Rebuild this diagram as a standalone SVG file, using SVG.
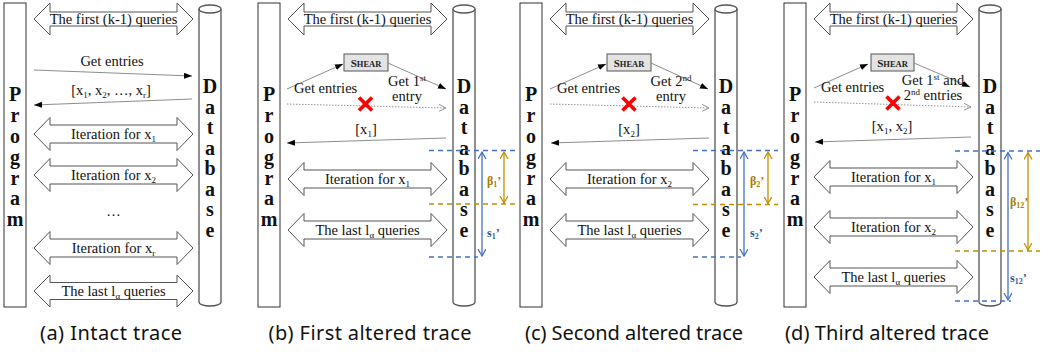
<svg xmlns="http://www.w3.org/2000/svg" width="1057" height="356" viewBox="0 0 1057 356">
<style>
.prog{fill:#fff;stroke:#333;stroke-width:1}
.db{fill:#fff;stroke:#555;stroke-width:1.3}
.big{font-family:"Liberation Serif",serif;font-weight:bold;font-size:20px;text-anchor:middle;fill:#111}
.blk{fill:#fff;stroke:#555;stroke-width:1}
.lbl{font-family:"Liberation Serif",serif;font-size:14.5px;fill:#111}
.mid{text-anchor:middle}
.sb{font-size:9px}
.sp{font-size:9px}
.msg{stroke:#808080;stroke-width:0.9;fill:none;marker-end:url(#ah)}
.dot{stroke:#888;stroke-width:0.9;stroke-dasharray:1.5 1.5;fill:none;marker-end:url(#oh)}
.bd{stroke:#4472c4;stroke-width:1.3;stroke-dasharray:5 4;fill:none}
.gd{stroke:#bf9000;stroke-width:1.3;stroke-dasharray:5 4;fill:none}
.bv{stroke:#4472c4;stroke-width:1.3;fill:none;marker-start:url(#bh);marker-end:url(#bh)}
.gv{stroke:#bf9000;stroke-width:1.3;fill:none;marker-start:url(#gh);marker-end:url(#gh)}
.bl{font-family:"Liberation Serif",serif;font-weight:bold;font-size:12px;fill:#2f5597}
.gl{font-family:"Liberation Serif",serif;font-weight:bold;font-size:12px;fill:#a67c00}
.s2{font-size:8px}
.shear{fill:#e3e3e3;stroke:#555;stroke-width:1}
.sht{font-family:"Liberation Serif",serif;font-weight:bold;font-size:11px;text-anchor:middle;fill:#222}
.x{stroke:#ff0000;stroke-width:3.6;fill:none}
.cap{font-family:"Noto Sans","DejaVu Sans",sans-serif;font-size:20px;text-anchor:middle;fill:#111}
</style>
<defs>
<marker id="ah" markerUnits="userSpaceOnUse" markerWidth="9" markerHeight="7" refX="8" refY="3" orient="auto"><path d="M0,0 L8,3 L0,6 Z" fill="#000"/></marker>
<marker id="oh" markerUnits="userSpaceOnUse" markerWidth="9" markerHeight="8" refX="7" refY="3.5" orient="auto"><path d="M0,0 L7,3.5 L0,7" fill="none" stroke="#888" stroke-width="0.9"/></marker>
<marker id="bh" markerUnits="userSpaceOnUse" markerWidth="9" markerHeight="9" refX="7" refY="4" orient="auto-start-reverse"><path d="M0,0 L7,4 L0,8" fill="none" stroke="#4472c4" stroke-width="1.3"/></marker>
<marker id="gh" markerUnits="userSpaceOnUse" markerWidth="9" markerHeight="9" refX="7" refY="4" orient="auto-start-reverse"><path d="M0,0 L7,4 L0,8" fill="none" stroke="#bf9000" stroke-width="1.3"/></marker>
<g id="progShape"><rect class="prog" x="4" y="3" width="22" height="304"/><text class="big" x="15" y="101">P</text><text class="big" x="15" y="122">r</text><text class="big" x="15" y="143">o</text><text class="big" x="15" y="164">g</text><text class="big" x="15" y="185">r</text><text class="big" x="15" y="205">a</text><text class="big" x="15" y="226">m</text></g>
<g id="dbShape"><path class="db" d="M199,9 L199,302 A11,4 0 0 0 221,302 L221,9"/><ellipse class="db" cx="210" cy="9" rx="11" ry="4"/><text class="big" x="210" y="93">D</text><text class="big" x="210" y="114">a</text><text class="big" x="210" y="134">t</text><text class="big" x="210" y="155">a</text><text class="big" x="210" y="175">b</text><text class="big" x="210" y="196">a</text><text class="big" x="210" y="216">s</text><text class="big" x="210" y="237">e</text></g>
</defs>

<!-- Panel (a) -->
<g id="panel-a">
<g id="a-program"><use href="#progShape"/></g>
<g id="a-database"><use href="#dbShape"/></g>
<g id="a-first"><path class="blk" d="M34,19 L50,3 L50,12 L177,12 L177,3 L193,19 L177,35 L177,26 L50,26 L50,35 Z"/><text class="lbl mid" x="113.5" y="24">The first (k-1) queries</text></g>
<g id="a-iter1"><path class="blk" d="M34,134 L50,117.5 L50,125 L177,125 L177,117.5 L193,134 L177,150.5 L177,143 L50,143 L50,150.5 Z"/><text class="lbl mid" x="113.5" y="139">Iteration for x<tspan class="sb" dy="3">1</tspan></text></g>
<g id="a-iter2"><path class="blk" d="M34,175 L50,158.5 L50,166 L177,166 L177,158.5 L193,175 L177,191.5 L177,184 L50,184 L50,191.5 Z"/><text class="lbl mid" x="113.5" y="180">Iteration for x<tspan class="sb" dy="3">2</tspan></text></g>
<text class="lbl mid" x="113.5" y="216">…</text>
<g id="a-iterr"><path class="blk" d="M34,248 L50,231.5 L50,239 L177,239 L177,231.5 L193,248 L177,264.5 L177,257 L50,257 L50,264.5 Z"/><text class="lbl mid" x="113.5" y="253">Iteration for x<tspan class="sb" dy="3">r</tspan></text></g>
<g id="a-last"><path class="blk" d="M34,291 L50,275 L50,282.5 L177,282.5 L177,275 L193,291 L177,307 L177,299.5 L50,299.5 L50,307 Z"/><text class="lbl mid" x="113.5" y="296">The last l<tspan class="sb" dy="3">α</tspan><tspan dy="-3"> queries</tspan></text></g>
<g id="a-connectors">
<line class="msg" x1="34" y1="70" x2="192" y2="76"/>
<line class="msg" x1="192" y1="99" x2="34" y2="105"/>
</g>
<text class="lbl mid" x="112" y="66">Get entries</text>
<text class="lbl mid" x="111" y="95">[x<tspan class="sb" dy="3">1</tspan><tspan dy="-3">, x</tspan><tspan class="sb" dy="3">2</tspan><tspan dy="-3">, …, x</tspan><tspan class="sb" dy="3">r</tspan><tspan dy="-3">]</tspan></text>
</g>

<!-- Panel (b) -->
<g id="panel-b" transform="translate(254,0)">
<g id="b-program"><use href="#progShape"/></g>
<g id="b-database"><use href="#dbShape"/></g>
<g id="b-first"><path class="blk" d="M34,19 L50,3 L50,12 L177,12 L177,3 L193,19 L177,35 L177,26 L50,26 L50,35 Z"/><text class="lbl mid" x="113.5" y="24">The first (k-1) queries</text></g>
<g id="b-shear"><rect class="shear" x="90" y="54" width="44" height="17"/><text class="sht" x="112" y="66.5">S<tspan font-size="8.5">HEAR</tspan></text></g>
<g id="b-iter1"><path class="blk" d="M34,179 L50,162.5 L50,170 L177,170 L177,162.5 L193,179 L177,195.5 L177,188 L50,188 L50,195.5 Z"/><text class="lbl mid" x="113.5" y="184">Iteration for x<tspan class="sb" dy="3">1</tspan></text></g>
<g id="b-last"><path class="blk" d="M34,230 L50,213.5 L50,221 L177,221 L177,213.5 L193,230 L177,246.5 L177,239 L50,239 L50,246.5 Z"/><text class="lbl mid" x="113.5" y="235">The last l<tspan class="sb" dy="3">α</tspan><tspan dy="-3"> queries</tspan></text></g>
<g id="b-connectors">
<line class="msg" x1="33" y1="89" x2="89" y2="64"/>
<line class="msg" x1="134" y1="63" x2="192" y2="89"/>
<line class="dot" x1="33" y1="104" x2="192" y2="108"/>
<line class="msg" x1="192" y1="138" x2="33" y2="143"/>
<line class="bd" x1="175" y1="150.5" x2="261" y2="150.5"/>
<line class="gd" x1="175" y1="204" x2="261" y2="204"/>
<line class="bd" x1="175" y1="257" x2="224" y2="257"/>
<line class="bv" x1="228" y1="152" x2="228" y2="256"/>
<line class="gv" x1="250" y1="152" x2="250" y2="203"/>
</g>
<g id="b-cross"><path class="x" d="M105,97.5 L118,110.5 M118,97.5 L105,110.5"/></g>
<text class="lbl" x="40" y="93">Get entries</text>
<text class="lbl mid" x="153" y="86">Get 1<tspan class="sp" dy="-5">st</tspan></text>
<text class="lbl mid" x="153" y="101">entry</text>
<text class="lbl mid" x="112" y="134">[x<tspan class="sb" dy="3">1</tspan><tspan dy="-3">]</tspan></text>
<text class="gl" x="233" y="185">β<tspan class="s2" dy="2">1</tspan><tspan dy="-2">’</tspan></text>
<text class="bl" x="233" y="237">s<tspan class="s2" dy="2">1</tspan><tspan dy="-2">’</tspan></text>
</g>

<!-- Panel (c) -->
<g id="panel-c" transform="translate(516,0)">
<g id="c-program"><use href="#progShape"/></g>
<g id="c-database"><use href="#dbShape"/></g>
<g id="c-first"><path class="blk" d="M34,19 L50,3 L50,12 L177,12 L177,3 L193,19 L177,35 L177,26 L50,26 L50,35 Z"/><text class="lbl mid" x="113.5" y="24">The first (k-1) queries</text></g>
<g id="c-shear"><rect class="shear" x="91" y="54" width="44" height="17"/><text class="sht" x="113" y="66.5">S<tspan font-size="8.5">HEAR</tspan></text></g>
<g id="c-iter2"><path class="blk" d="M34,179 L50,162.5 L50,170 L177,170 L177,162.5 L193,179 L177,195.5 L177,188 L50,188 L50,195.5 Z"/><text class="lbl mid" x="113.5" y="184">Iteration for x<tspan class="sb" dy="3">2</tspan></text></g>
<g id="c-last"><path class="blk" d="M34,230 L50,213.5 L50,221 L177,221 L177,213.5 L193,230 L177,246.5 L177,239 L50,239 L50,246.5 Z"/><text class="lbl mid" x="113.5" y="235">The last l<tspan class="sb" dy="3">α</tspan><tspan dy="-3"> queries</tspan></text></g>
<g id="c-connectors">
<line class="msg" x1="34" y1="89" x2="90" y2="64"/>
<line class="msg" x1="135" y1="63" x2="192" y2="89"/>
<line class="dot" x1="34" y1="104" x2="193" y2="108"/>
<line class="msg" x1="193" y1="138" x2="35" y2="143"/>
<line class="bd" x1="177" y1="150.5" x2="262" y2="150.5"/>
<line class="gd" x1="177" y1="204.5" x2="262" y2="204.5"/>
<line class="bd" x1="177" y1="257" x2="225" y2="257"/>
<line class="bv" x1="228" y1="152" x2="228" y2="256"/>
<line class="gv" x1="252" y1="152" x2="252" y2="203.5"/>
</g>
<g id="c-cross"><path class="x" d="M106.5,97.5 L119.5,110.5 M119.5,97.5 L106.5,110.5"/></g>
<text class="lbl" x="41" y="93">Get entries</text>
<text class="lbl mid" x="155" y="86">Get 2<tspan class="sp" dy="-5">nd</tspan></text>
<text class="lbl mid" x="155" y="101">entry</text>
<text class="lbl mid" x="113" y="134">[x<tspan class="sb" dy="3">2</tspan><tspan dy="-3">]</tspan></text>
<text class="gl" x="234" y="185">β<tspan class="s2" dy="2">2</tspan><tspan dy="-2">’</tspan></text>
<text class="bl" x="234" y="237">s<tspan class="s2" dy="2">2</tspan><tspan dy="-2">’</tspan></text>
</g>

<!-- Panel (d) -->
<g id="panel-d" transform="translate(780,0)">
<g id="d-program"><use href="#progShape"/></g>
<g id="d-database"><use href="#dbShape"/></g>
<g id="d-first"><path class="blk" d="M34,19 L50,3 L50,12 L177,12 L177,3 L193,19 L177,35 L177,26 L50,26 L50,35 Z"/><text class="lbl mid" x="113.5" y="24">The first (k-1) queries</text></g>
<g id="d-shear"><rect class="shear" x="91" y="54" width="43" height="17"/><text class="sht" x="112.5" y="66.5">S<tspan font-size="8.5">HEAR</tspan></text></g>
<g id="d-iter1"><path class="blk" d="M34,177 L50,160.5 L50,168 L177,168 L177,160.5 L193,177 L177,193.5 L177,186 L50,186 L50,193.5 Z"/><text class="lbl mid" x="113.5" y="182">Iteration for x<tspan class="sb" dy="3">1</tspan></text></g>
<g id="d-iter2"><path class="blk" d="M34,227 L50,210.5 L50,218 L177,218 L177,210.5 L193,227 L177,243.5 L177,236 L50,236 L50,243.5 Z"/><text class="lbl mid" x="113.5" y="232">Iteration for x<tspan class="sb" dy="3">2</tspan></text></g>
<g id="d-last"><path class="blk" d="M34,277 L50,260.5 L50,268 L177,268 L177,260.5 L193,277 L177,293.5 L177,286 L50,286 L50,293.5 Z"/><text class="lbl mid" x="113.5" y="282">The last l<tspan class="sb" dy="3">α</tspan><tspan dy="-3"> queries</tspan></text></g>
<g id="d-connectors">
<line class="msg" x1="34" y1="88" x2="88" y2="64"/>
<line class="msg" x1="134" y1="63" x2="190" y2="87"/>
<line class="dot" x1="34" y1="102" x2="191" y2="107"/>
<line class="msg" x1="191" y1="137" x2="35" y2="142"/>
<line class="bd" x1="175" y1="151" x2="260" y2="151"/>
<line class="gd" x1="175" y1="251" x2="260" y2="251"/>
<line class="bd" x1="175" y1="301" x2="231" y2="301"/>
<line class="bv" x1="228" y1="152.5" x2="228" y2="300"/>
<line class="gv" x1="248" y1="152.5" x2="248" y2="250"/>
</g>
<g id="d-cross"><path class="x" d="M106.5,96.5 L119.5,109.5 M119.5,96.5 L106.5,109.5"/></g>
<text class="lbl" x="41" y="92">Get entries</text>
<text class="lbl mid" x="153" y="85">Get 1<tspan class="sp" dy="-5">st</tspan><tspan dy="5"> and</tspan></text>
<text class="lbl mid" x="153" y="100">2<tspan class="sp" dy="-5">nd</tspan><tspan dy="5"> entries</tspan></text>
<text class="lbl mid" x="112" y="131">[x<tspan class="sb" dy="3">1</tspan><tspan dy="-3">, x</tspan><tspan class="sb" dy="3">2</tspan><tspan dy="-3">]</tspan></text>
<text class="gl" x="230" y="206">β<tspan class="s2" dy="2">12</tspan><tspan dy="-2">’</tspan></text>
<text class="bl" x="230" y="282">s<tspan class="s2" dy="2">12</tspan><tspan dy="-2">’</tspan></text>
</g>

<g id="captions">
<text class="cap" x="111" y="340" textLength="142" lengthAdjust="spacing">(a) Intact trace</text>
<text class="cap" x="370" y="340" textLength="203" lengthAdjust="spacing">(b) First altered trace</text>
<text class="cap" x="634" y="340" textLength="218" lengthAdjust="spacing">(c) Second altered trace</text>
<text class="cap" x="887" y="340" textLength="204" lengthAdjust="spacing">(d) Third altered trace</text>
</g>
</svg>
